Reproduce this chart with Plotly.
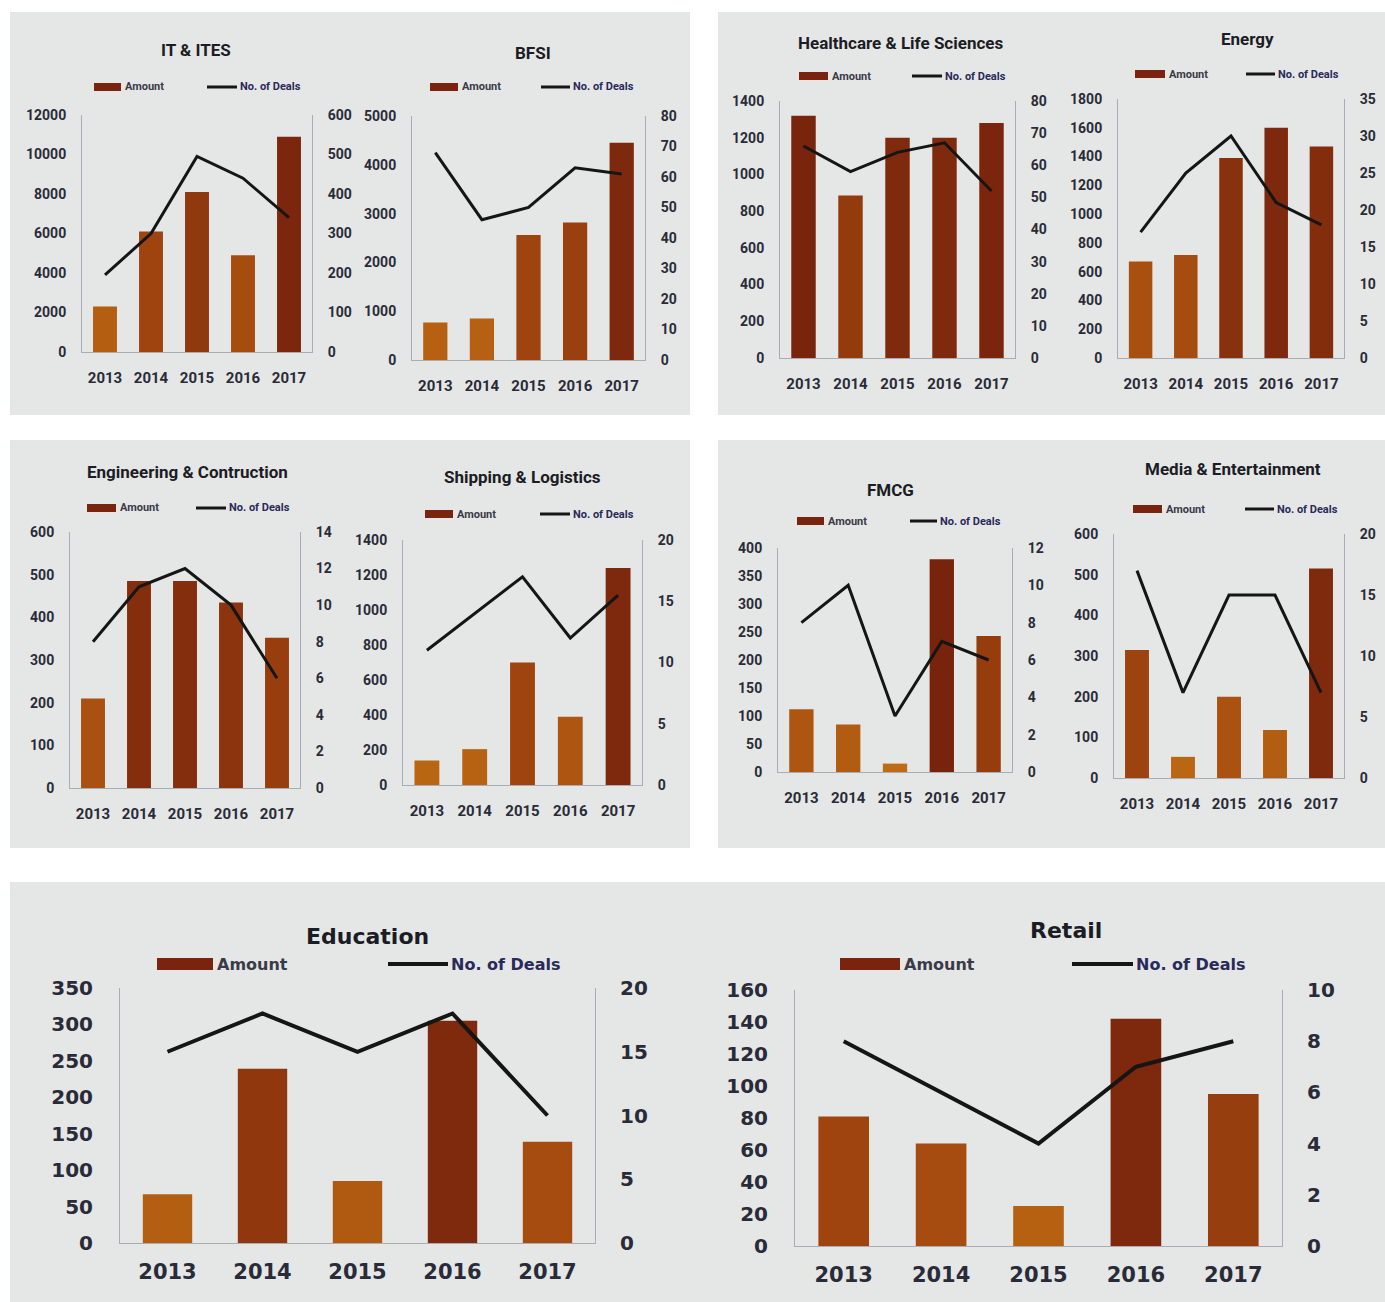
import plotly.graph_objects as go

W, H = 1385, 1302

years = ["2013", "2014", "2015", "2016", "2017"]

sectors = [
    "IT & ITES", "BFSI", "Healthcare & Life Sciences", "Energy",
    "Engineering & Contruction", "Shipping & Logistics", "FMCG",
    "Media & Entertainment", "Education", "Retail",
]

# Investment amount per year (left axis)
amount_it = [2300, 6100, 8100, 4900, 10900]
amount_bfsi = [770, 850, 2560, 2820, 4450]
amount_health = [1320, 885, 1200, 1200, 1280]
amount_energy = [670, 715, 1390, 1600, 1470]
amount_eng = [210, 485, 485, 435, 352]
amount_ship = [140, 205, 700, 390, 1240]
amount_fmcg = [112, 85, 15, 380, 243]
amount_media = [315, 52, 200, 118, 515]
amount_edu = [67, 239, 85, 305, 139]
amount_retail = [81, 64, 25, 142, 95]

# Number of deals per year (right axis)
deals_it = [195, 300, 495, 440, 340]
deals_bfsi = [68, 46, 50, 63, 61]
deals_health = [66, 58, 64, 67, 52]
deals_energy = [17, 25, 30, 21, 18]
deals_eng = [8, 11, 12, 10, 6]
deals_ship = [11, 14, 17, 12, 15.5]
deals_fmcg = [8, 10, 3, 7, 6]
deals_media = [17, 7, 15, 15, 7]
deals_edu = [15, 18, 15, 18, 10]
deals_retail = [8, 6, 4, 7, 8]

amounts = [amount_it, amount_bfsi, amount_health, amount_energy, amount_eng,
           amount_ship, amount_fmcg, amount_media, amount_edu, amount_retail]
deals = [deals_it, deals_bfsi, deals_health, deals_energy, deals_eng,
         deals_ship, deals_fmcg, deals_media, deals_edu, deals_retail]

# Axis scales: (left max, left step, right max, right step)
scales = [
    (12000, 2000, 600, 100),
    (5000, 1000, 80, 10),
    (1400, 200, 80, 10),
    (1800, 200, 35, 5),
    (600, 100, 14, 2),
    (1400, 200, 20, 5),
    (400, 50, 12, 2),
    (600, 100, 20, 5),
    (350, 50, 20, 5),
    (160, 20, 10, 2),
]

# Plot boxes in pixels: x0, x1, y_top, y_bottom
boxes = [
    (82, 312, 115, 352),
    (412, 645, 116, 360),
    (780, 1015, 101, 358),
    (1118, 1344, 99, 358),
    (70, 300, 532, 788),
    (403, 642, 540, 785),
    (778, 1012, 548, 772),
    (1114, 1344, 534, 778),
    (120, 595, 988, 1243),
    (795, 1282, 990, 1246),
]

# Title centres and legend rows: (title x, title y, legend y, swatch x0, swatch x1, line x0, line x1)
heads = [
    (196, 50, 87, 94, 121, 207, 237),
    (533, 53, 87, 430, 458, 541, 570),
    (900, 43, 76, 799, 828, 912, 942),
    (1247, 39, 74, 1135, 1165, 1246, 1275),
    (187, 472, 508, 87, 116, 196, 226),
    (522, 477, 514, 425, 453, 540, 570),
    (890, 490, 521, 797, 824, 910, 937),
    (1233, 469, 509, 1133, 1162, 1245, 1274),
    (367, 936, 964, 157, 213, 388, 448),
    (1066, 930, 964, 840, 900, 1072, 1133),
]

# Background panels (x0, x1, y0, y1) in pixels
panels = [(10, 690, 12, 415), (718, 1385, 12, 415),
          (10, 690, 440, 848), (718, 1385, 440, 848),
          (10, 1385, 882, 1302)]

NARROW = "Liberation Sans Narrow, Arial Narrow, Roboto, sans-serif"
WIDE = "DejaVu Sans, Verdana, sans-serif"
TEXT = "#2a2b38"
AXIS = "#a9acb6"
BAR_SCALE = [[0.0, "#bf6e14"], [0.45, "#a4480f"], [1.0, "#74200c"]]


def px(x):
    return x / W


def py(y):
    return 1 - y / H


fig = go.Figure()
layout = {}
shapes = []
annotations = []

for x0, x1, y0, y1 in panels:
    shapes.append(dict(type="rect", xref="paper", yref="paper",
                       x0=px(x0), x1=px(x1), y0=py(y1), y1=py(y0),
                       fillcolor="#e5e7e6", line=dict(width=0), layer="below"))

for k, name in enumerate(sectors):
    big = k >= 8
    fam = WIDE if big else NARROW
    tick_size = 20 if big else 14
    xa = f"x{k + 1}"
    ya_l = f"y{2 * k + 1}"
    ya_r = f"y{2 * k + 2}"
    lmax, lstep, rmax, rstep = scales[k]
    bx0, bx1, by0, by1 = boxes[k]

    fig.add_trace(go.Bar(
        x=years, y=amounts[k], xaxis=xa, yaxis=ya_l, name="Amount",
        width=0.52, showlegend=False,
        marker=dict(color=amounts[k], colorscale=BAR_SCALE, cmin=0, cmax=lmax,
                    line=dict(width=0)),
        hovertemplate="%{x}: %{y}<extra>Amount</extra>",
    ))
    fig.add_trace(go.Scatter(
        x=years, y=deals[k], xaxis=xa, yaxis=ya_r, name="No. of Deals",
        mode="lines", showlegend=False,
        line=dict(color="#151515", width=4 if big else 3),
        hovertemplate="%{x}: %{y}<extra>No. of Deals</extra>",
    ))

    tfont = dict(family=fam, size=tick_size, color=TEXT, weight="bold")
    layout["xaxis" + ("" if k == 0 else str(k + 1))] = dict(
        domain=[px(bx0), px(bx1)], anchor=ya_l, type="category",
        range=[-0.5, 4.5], showline=True, linecolor=AXIS, linewidth=1,
        ticks="", tickfont=dict(family=fam, size=21 if big else 15,
                                color=TEXT, weight="bold"),
        ticklabelstandoff=10 if big else 12, showgrid=False, zeroline=False,
        fixedrange=True, automargin=False,
    )
    layout["yaxis" + ("" if k == 0 else str(2 * k + 1))] = dict(
        domain=[py(by1), py(by0)], anchor=xa, range=[0, lmax],
        tick0=0, dtick=lstep, tickformat="d", showline=True, linecolor=AXIS,
        linewidth=1, ticks="", tickfont=tfont,
        ticklabelstandoff=22 if big else 12,
        showgrid=False, zeroline=False, fixedrange=True, automargin=False,
    )
    layout["yaxis" + str(2 * k + 2)] = dict(
        overlaying=ya_l, side="right", anchor=xa, range=[0, rmax],
        tick0=0, dtick=rstep, tickformat="d", showline=True, linecolor=AXIS,
        linewidth=1, ticks="", tickfont=tfont,
        ticklabelstandoff=20 if big else 12,
        showgrid=False, zeroline=False, fixedrange=True, automargin=False,
    )

    tx, ty, ly, sx0, sx1, lx0, lx1 = heads[k]
    annotations.append(dict(
        text=f"<b>{name}</b>", xref="paper", yref="paper", x=px(tx), y=py(ty),
        xanchor="center", yanchor="middle", showarrow=False,
        font=dict(family=fam, size=22 if big else 17, color="#1c1c24"),
    ))
    sh = 6 if big else 4
    shapes.append(dict(type="rect", xref="paper", yref="paper",
                       x0=px(sx0), x1=px(sx1), y0=py(ly + sh), y1=py(ly - sh),
                       fillcolor="#7a2410", line=dict(width=0)))
    annotations.append(dict(
        text="<b>Amount</b>", xref="paper", yref="paper", x=px(sx1 + 2), y=py(ly),
        xanchor="left", yanchor="middle", showarrow=False,
        font=dict(family=fam, size=16 if big else 11, color="#3a3a48"),
    ))
    shapes.append(dict(type="line", xref="paper", yref="paper",
                       x0=px(lx0), x1=px(lx1), y0=py(ly), y1=py(ly),
                       line=dict(color="#151515", width=4 if big else 3)))
    annotations.append(dict(
        text="<b>No. of Deals</b>", xref="paper", yref="paper", x=px(lx1 + 1), y=py(ly),
        xanchor="left", yanchor="middle", showarrow=False,
        font=dict(family=fam, size=16 if big else 11, color="#2a2a5a"),
    ))

fig.update_layout(
    width=W, height=H,
    margin=dict(l=0, r=0, t=0, b=0, pad=0, autoexpand=False),
    paper_bgcolor="white", plot_bgcolor="rgba(0,0,0,0)",
    showlegend=False, bargap=0.48,
    shapes=shapes, annotations=annotations,
    **layout,
)

fig.write_html("out.html")
